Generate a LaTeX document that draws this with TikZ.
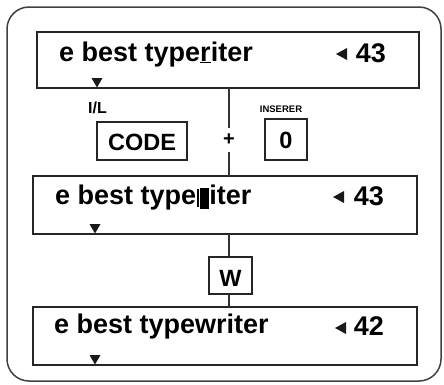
\documentclass[tikz,border=0pt]{standalone}
\usepackage{fontspec}
\setmainfont{Liberation Sans}
\begin{document}
\begin{tikzpicture}[x=1pt,y=-1pt,
  frame/.style={draw=black!85, line width=2.8pt, inner sep=0pt, minimum width=382pt, minimum height=56pt},
  keybox/.style={draw=black!85, line width=1.8pt},
  big/.style={font=\fontsize{27}{30}\selectfont\bfseries, inner sep=0pt},
  keyt/.style={font=\fontsize{23.5}{27}\selectfont\bfseries, inner sep=0pt},
  tiny/.style={font=\fontsize{9.5}{11}\selectfont\bfseries, inner sep=0pt},
  conn/.style={draw=black!80, line width=1.2pt},
  tri/.style={fill=black!90}
]
\useasboundingbox (0,0) rectangle (444,384);
% outer border
\draw[draw=black!75, line width=1.5pt, rounded corners=22pt] (7,7) rectangle (441,381);

% top box
\node[frame] (b1) at (228,60) {};
\coordinate (b1s) at (229,88);
\node[big, anchor=base west] (t1) at (59,61) {e best type\underline{r}iter};
\node[big, anchor=base east] (n1) at (386,62) {43};
\fill[tri] (336,54) -- (347,48) -- (347,60) -- cycle;
\fill[tri] (91.5,78) -- (102.5,78) -- (97,87.5) -- cycle;

% labels & keys
\node[font=\fontsize{16}{18}\selectfont\bfseries, inner sep=0pt, anchor=base west] (il) at (88,113) {I/L};
\node[keybox, minimum width=90pt, minimum height=38pt, inner sep=0pt] (code) at (142,141) {};
\node[keyt, anchor=base] (codet) at (142,150) {CODE};
\node[font=\fontsize{20}{24}\selectfont\bfseries, inner sep=0pt] (plus) at (229,140) {+};
\node[tiny, anchor=base] (ins) at (281,112) {INSERER};
\node[keybox, minimum width=42pt, minimum height=41pt, inner sep=0pt] (zero) at (286,139.5) {};
\node[keyt, anchor=base] (zerot) at (286,148) {0};

% middle box
\node[frame, minimum width=384pt, minimum height=58pt] (b2) at (225,205) {};
\coordinate (b2n) at (229,176);
\coordinate (b2s) at (229,234);
\node[big, anchor=base west] (t2) at (55,204) {e best type\hspace{1pt}\rule[-3pt]{1.6pt}{18pt}\hspace{1.5pt}\rule[-5pt]{9pt}{21pt}iter};
\node[big, anchor=base east] (n2) at (384,205) {43};
\fill[tri] (333,197) -- (344,191) -- (344,203) -- cycle;
\fill[tri] (89.5,224) -- (100.5,224) -- (95,233.5) -- cycle;

\draw[conn] (b1s) -- (229,128);
\draw[conn] (229,152) -- (b2n);

% W key
\node[keybox, minimum width=43pt, minimum height=37pt, inner sep=0pt] (w) at (230.5,275.5) {};
\node[keyt, anchor=base] (wt) at (230.5,286) {W};
\coordinate (b3n) at (229,307);
\draw[conn] (b2s) -- (w.north -| b2s);
\draw[conn] (w.south -| b3n) -- (b3n);

% bottom box
\node[frame, minimum width=384pt, minimum height=58pt] (b3) at (225,336) {};
\node[big, anchor=base west] (t3) at (54,333) {e best typewriter};
\node[big, anchor=base east] (n3) at (384,335) {42};
\fill[tri] (335,328) -- (346,322) -- (346,334) -- cycle;
\fill[tri] (89.5,355) -- (100.5,355) -- (95,364.5) -- cycle;
\end{tikzpicture}
\end{document}
